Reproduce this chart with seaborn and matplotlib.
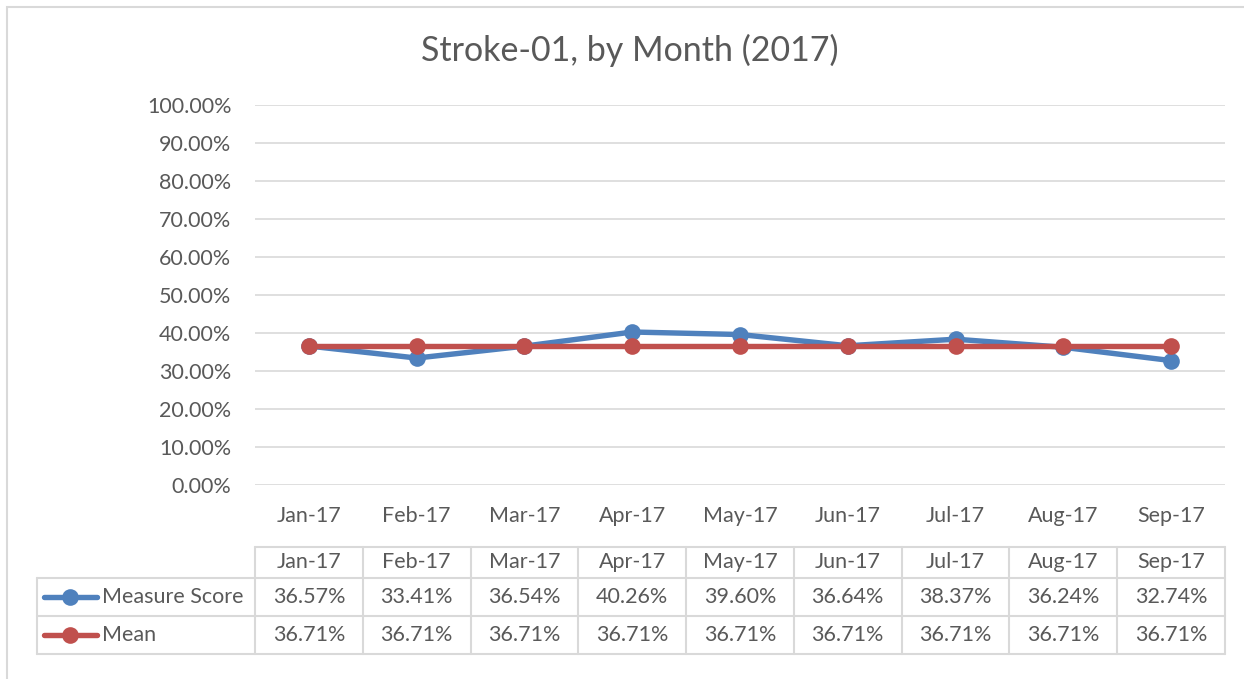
import matplotlib
matplotlib.use("Agg")
import matplotlib.pyplot as plt
import seaborn as sns
import pandas as pd
from matplotlib.transforms import blended_transform_factory
from matplotlib.patches import Rectangle
from matplotlib.lines import Line2D

months = ["Jan-17", "Feb-17", "Mar-17", "Apr-17", "May-17", "Jun-17", "Jul-17", "Aug-17", "Sep-17"]
measure_score = [36.57, 33.41, 36.54, 40.26, 39.60, 36.64, 38.37, 36.24, 32.74]
mean_values = [36.71, 36.71, 36.71, 36.71, 36.71, 36.71, 36.71, 36.71, 36.71]
series_names = ["Measure Score", "Mean"]
title = "Stroke-01, by Month (2017)"

sns.set_theme(style="white")
plt.rcParams["font.family"] = ["Lato", "DejaVu Sans"]

W, H = 1244, 679
fig = plt.figure(figsize=(W / 100, H / 100), dpi=100)
TXT = "#595959"
GRID = "#D9D9D9"
BLUE = "#4F81BD"
RED = "#C0504D"
FS = 15.5
LW = 3.9
MS = 12

def fx(px):
    return px / W

def fy(py):
    return 1 - py / H

# outer chart border (only top/left visible)
fig.patches.append(Rectangle((fx(7), fy(1300)), 2.0, fy(7) - fy(1300), transform=fig.transFigure,
                             fill=False, edgecolor=GRID, lw=1.5))

left, right, top, bottom = 255, 1225, 105, 485
ax = fig.add_axes([fx(left), fy(bottom), fx(right - left), (bottom - top) / H])

df = pd.DataFrame({
    "month_idx": list(range(len(months))) * 2,
    "value": measure_score + mean_values,
    "series": [series_names[0]] * len(months) + [series_names[1]] * len(months),
})
sns.lineplot(data=df, x="month_idx", y="value", hue="series", palette=[BLUE, RED],
             marker="o", markersize=MS, markeredgewidth=0, linewidth=LW, ax=ax, legend=False)

ax.set_xlim(-0.5, len(months) - 0.5)
ax.set_ylim(0, 100)
ax.set_yticks(range(0, 101, 10))
ax.set_yticklabels([f"{v:.2f}%" for v in range(0, 101, 10)], color=TXT, fontsize=FS)
ax.set_xticks(range(len(months)))
ax.set_xticklabels(months, color=TXT, fontsize=FS)
ax.tick_params(axis="both", length=0)
ax.tick_params(axis="y", pad=17)
ax.tick_params(axis="x", pad=15)
ax.set_xlabel("")
ax.set_ylabel("")
ax.grid(axis="y", color=GRID, lw=1.2)
ax.grid(axis="x", visible=False)
for s in ax.spines.values():
    s.set_visible(False)
ax.set_facecolor("none")

fig.text(fx(630), fy(50), title, ha="center", va="center", fontsize=24.5, color=TXT)

# data table
tr = blended_transform_factory(ax.transData, fig.transFigure)
rows_y = [547, 578, 616, 654]
n = len(months)
lw = 1.5
fig.add_artist(Line2D([fx(left), fx(right)], [fy(rows_y[0])] * 2, transform=fig.transFigure, color=GRID, lw=lw))
for yy in rows_y[1:]:
    fig.add_artist(Line2D([fx(37), fx(right)], [fy(yy)] * 2, transform=fig.transFigure, color=GRID, lw=lw))
fig.add_artist(Line2D([fx(37), fx(37)], [fy(rows_y[1]), fy(rows_y[3])], transform=fig.transFigure, color=GRID, lw=lw))
for i in range(n + 1):
    fig.add_artist(Line2D([i - 0.5, i - 0.5], [fy(rows_y[0]), fy(rows_y[3])], transform=tr, color=GRID, lw=lw))

for i, m in enumerate(months):
    fig.text(i, fy((rows_y[0] + rows_y[1]) / 2), m, transform=tr, ha="center", va="center", fontsize=FS, color=TXT)
    fig.text(i, fy((rows_y[1] + rows_y[2]) / 2), f"{measure_score[i]:.2f}%", transform=tr, ha="center", va="center", fontsize=FS, color=TXT)
    fig.text(i, fy((rows_y[2] + rows_y[3]) / 2), f"{mean_values[i]:.2f}%", transform=tr, ha="center", va="center", fontsize=FS, color=TXT)

for k, (name, col) in enumerate(zip(series_names, [BLUE, RED])):
    yc = fy((rows_y[k + 1] + rows_y[k + 2]) / 2)
    fig.add_artist(Line2D([fx(44), fx(97)], [yc, yc], transform=fig.transFigure, color=col, lw=LW,
                          solid_capstyle="round"))
    fig.add_artist(Line2D([fx(70)], [yc], transform=fig.transFigure, color=col, marker="o",
                          markersize=MS, markeredgewidth=0))
    fig.text(fx(102), yc, name, ha="left", va="center", fontsize=FS, color=TXT)

fig.savefig("out.png", dpi=100, facecolor="white")
